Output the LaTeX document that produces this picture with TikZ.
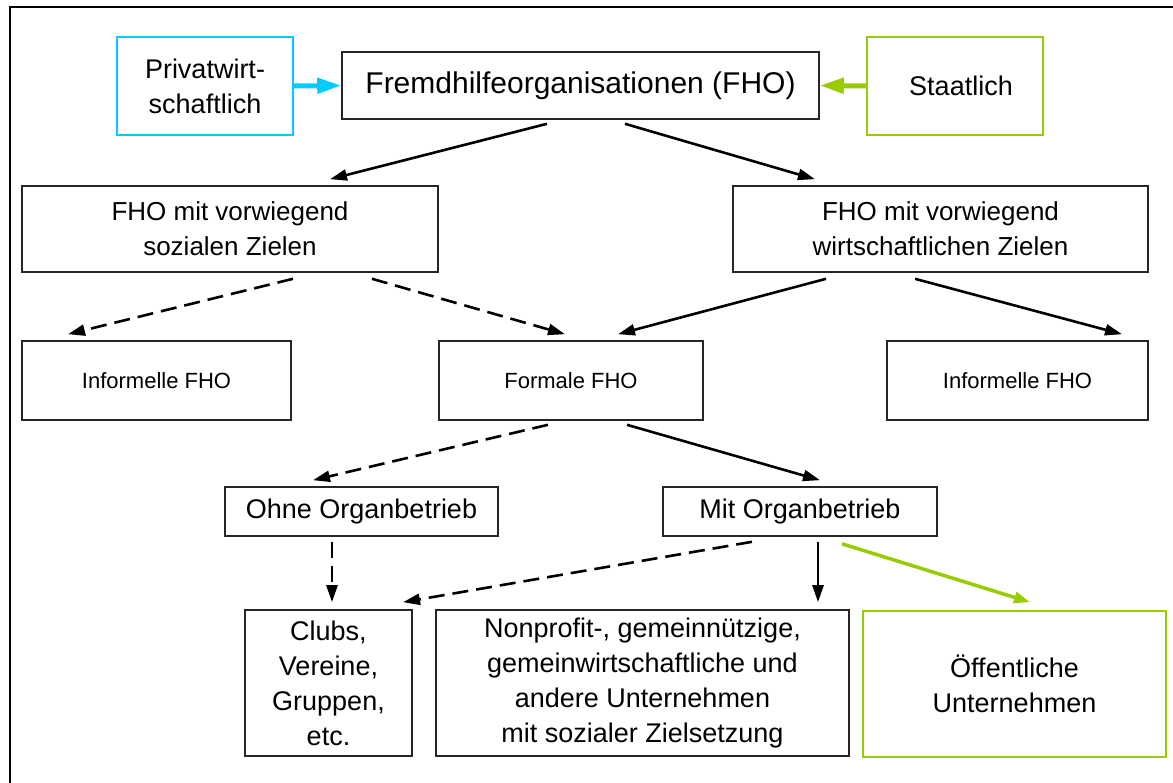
\documentclass[tikz,border=0pt]{standalone}
\usepackage{fontspec}
\setmainfont{Liberation Sans}
\usepackage{xcolor}
\usepackage{tikz}
\usetikzlibrary{arrows.meta}

\definecolor{privcyan}{RGB}{0,204,255}
\definecolor{staatgreen}{RGB}{153,204,0}

\begin{document}
\begin{tikzpicture}[x=1pt, y=-1pt,
    box/.style={draw=black!85, line width=1.6pt, inner sep=0pt, align=center},
    arr/.style={-{Triangle[length=17pt,width=11pt]}, line width=2.6pt},
    dasharr/.style={arr, dash pattern=on 16pt off 8pt},
    txt/.style={font=\fontsize{27}{35}\selectfont}]
            \useasboundingbox (0,0) rectangle (1173,782);
            \draw[line width=2.2pt] (10,7) rectangle (1190,800);

            % Top row
            \node[box, minimum width=477pt, minimum height=67pt, font=\fontsize{30}{36}\selectfont] (fho) at (580.5,85.5) {Fremdhilfeorganisationen (FHO)};
            \node[box, txt, draw=privcyan, minimum width=176pt, minimum height=98pt] (privat) at (205,86) {Privatwirt-\\schaftlich};
            \node[box, txt, draw=staatgreen, minimum width=176pt, minimum height=98pt] (staat) at (955,86) {\hspace*{12pt}Staatlich};
            \draw[-{Triangle[length=24pt,width=15pt]}, line width=5pt, privcyan] (privat.east) -- (fho.west);
            \draw[-{Triangle[length=24pt,width=15pt]}, line width=5pt, staatgreen] (staat.west) -- (fho.east);

            % Soziale und wirtschaftliche Ziele
            \node[box, font=\fontsize{26}{35}\selectfont, minimum width=416pt, minimum height=86pt] (sozial) at (230,229) {FHO mit vorwiegend\\sozialen Zielen};
            \node[box, font=\fontsize{26}{35}\selectfont, minimum width=415pt, minimum height=86pt] (wirt) at (940.5,229) {FHO mit vorwiegend\\wirtschaftlichen Zielen};
            \draw[arr] ([xshift=-33.5pt,yshift=-4pt]fho.south) -- ([xshift=100pt,yshift=6pt]sozial.north);
            \draw[arr] ([xshift=44.5pt,yshift=-4pt]fho.south) -- ([xshift=-125.5pt,yshift=6pt]wirt.north);

            % Informell / formal
            \node[box, font=\fontsize{22}{30}\selectfont, minimum width=269pt, minimum height=79pt] (infl) at (156.5,380.5) {Informelle FHO};
            \node[box, font=\fontsize{22}{30}\selectfont, minimum width=264pt, minimum height=79pt] (formal) at (571,380.5) {Formale FHO};
            \node[box, font=\fontsize{22}{30}\selectfont, minimum width=261pt, minimum height=79pt] (infr) at (1017.5,380.5) {Informelle FHO};
            \draw[dasharr] ([xshift=63pt,yshift=-6pt]sozial.south) -- ([xshift=-88.5pt,yshift=6pt]infl.north);
            \draw[dasharr] ([xshift=142pt,yshift=-6pt]sozial.south) -- ([xshift=-6pt,yshift=6pt]formal.north);
            \draw[arr] ([xshift=-114.5pt,yshift=-6pt]wirt.south) -- ([xshift=47pt,yshift=6pt]formal.north);
            \draw[arr] ([xshift=-25.5pt,yshift=-6pt]wirt.south) -- ([xshift=104.5pt,yshift=6pt]infr.north);

            % Organbetrieb
            \node[box, txt, minimum width=273pt, minimum height=49pt] (ohne) at (361.5,511.5) {Ohne Organbetrieb};
            \node[box, txt, minimum width=274pt, minimum height=49pt] (mit) at (800,511.5) {Mit Organbetrieb};
            \draw[dasharr] ([xshift=-23pt,yshift=-4pt]formal.south) -- ([xshift=-48.5pt,yshift=6pt]ohne.north);
            \draw[arr] ([xshift=56pt,yshift=-4pt]formal.south) -- ([xshift=20pt,yshift=6pt]mit.north);

            % Unternehmen
            \node[box, txt, minimum width=167pt, minimum height=146pt] (clubs) at (328.5,683) {Clubs,\\Vereine,\\Gruppen,\\etc.};
            \node[box, txt, minimum width=413pt, minimum height=146pt] (nonprofit) at (642.5,683) {Nonprofit-, gemeinnützige,\\gemeinwirtschaftliche und\\andere Unternehmen\\mit sozialer Zielsetzung};
            \node[box, txt, draw=staatgreen, minimum width=303pt, minimum height=146pt] (oeff) at (1014.5,684) {Öffentliche\\Unternehmen};
            \draw[dasharr] ([xshift=-29.5pt,yshift=-5pt]ohne.south) -- ([xshift=3.5pt,yshift=7pt]clubs.north);
            \draw[dasharr] ([xshift=-48pt,yshift=-5pt]mit.south) -- ([xshift=74.5pt,yshift=7pt]clubs.north);
            \draw[arr] ([xshift=18pt,yshift=-5pt]mit.south) -- ([xshift=175.5pt,yshift=7pt]nonprofit.north);
            \draw[-{Triangle[length=16pt,width=11pt]}, line width=3.5pt, staatgreen] ([xshift=42pt,yshift=-7pt]mit.south) -- ([xshift=15.5pt,yshift=8pt]oeff.north);
\end{tikzpicture}
\end{document}
